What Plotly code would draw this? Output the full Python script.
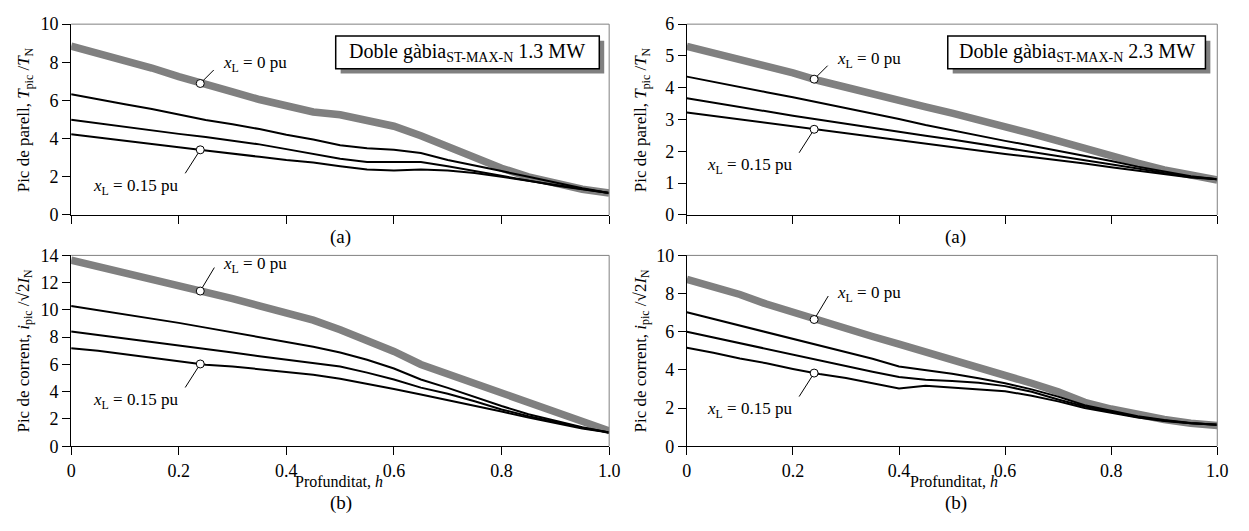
import numpy as np
import plotly.graph_objects as go
from plotly.subplots import make_subplots

# Depth h (per unit)
h = [0.0, 0.05, 0.1, 0.15, 0.2, 0.25, 0.3, 0.35, 0.4, 0.45, 0.5,
     0.55, 0.6, 0.65, 0.7, 0.75, 0.8, 0.85, 0.9, 0.95, 1.0]

# --- 1.3 MW machine: peak torque T_pic/T_N ---
torque_13_x0 = [8.85, 8.5, 8.15, 7.7, 7.25, 6.8, 6.45, 6.05, 5.7, 5.4, 5.25,
                5.0, 4.65, 4.15, 3.55, 3.0, 2.45, 2.0, 1.65, 1.35, 1.15]
torque_13_a = [6.33, 6.05, 5.8, 5.55, 5.25, 4.98, 4.75, 4.5, 4.2, 3.95, 3.65,
               3.5, 3.42, 3.25, 2.88, 2.6, 2.3, 2.0, 1.7, 1.4, 1.15]
torque_13_b = [4.99, 4.8, 4.6, 4.42, 4.25, 4.08, 3.9, 3.7, 3.45, 3.2, 2.95,
               2.78, 2.78, 2.78, 2.55, 2.3, 2.05, 1.8, 1.55, 1.35, 1.15]
torque_13_x15 = [4.23, 4.05, 3.9, 3.72, 3.55, 3.38, 3.2, 3.05, 2.88, 2.75, 2.55,
                 2.38, 2.33, 2.38, 2.33, 2.2, 2.0, 1.78, 1.55, 1.35, 1.15]

# --- 2.3 MW machine: peak torque T_pic/T_N ---
torque_23_x0 = [5.3, 5.1, 4.88, 4.67, 4.47, 4.22, 4.0, 3.8, 3.6, 3.4, 3.2,
                3.0, 2.78, 2.56, 2.33, 2.08, 1.85, 1.63, 1.42, 1.25, 1.1]
torque_23_a = [4.35, 4.18, 4.02, 3.86, 3.7, 3.53, 3.37, 3.2, 3.02, 2.83, 2.66,
               2.48, 2.33, 2.18, 2.02, 1.88, 1.7, 1.52, 1.36, 1.22, 1.12]
torque_23_b = [3.67, 3.54, 3.4, 3.26, 3.12, 2.99, 2.86, 2.74, 2.62, 2.49, 2.37,
               2.24, 2.12, 1.99, 1.87, 1.74, 1.6, 1.46, 1.32, 1.2, 1.12]
torque_23_x15 = [3.22, 3.11, 3.0, 2.9, 2.79, 2.67, 2.56, 2.45, 2.34, 2.23, 2.12,
                 2.02, 1.92, 1.82, 1.73, 1.62, 1.5, 1.39, 1.28, 1.18, 1.12]

# --- 1.3 MW machine: peak current i_pic/sqrt(2) I_N ---
current_13_x0 = [13.65, 13.2, 12.75, 12.3, 11.8, 11.28, 10.83, 10.3, 9.8, 9.25, 8.55,
                 7.8, 6.95, 6.0, 5.3, 4.6, 3.9, 3.2, 2.5, 1.8, 1.13]
current_13_a = [10.28, 9.98, 9.68, 9.38, 9.05, 8.7, 8.35, 8.0, 7.65, 7.3, 6.88,
                6.35, 5.7, 4.9, 4.28, 3.6, 2.95, 2.35, 1.85, 1.4, 1.0]
current_13_b = [8.42, 8.17, 7.92, 7.67, 7.4, 7.13, 6.87, 6.6, 6.35, 6.15, 5.85,
                5.4, 4.9, 4.3, 3.85, 3.3, 2.7, 2.2, 1.75, 1.35, 1.0]
current_13_x15 = [7.18, 7.0, 6.75, 6.5, 6.25, 5.98, 5.85, 5.65, 5.45, 5.25, 4.95,
                  4.6, 4.2, 3.8, 3.4, 3.0, 2.55, 2.1, 1.7, 1.3, 1.0]

# --- 2.3 MW machine: peak current i_pic/sqrt(2) I_N ---
current_23_x0 = [8.74, 8.35, 7.95, 7.45, 7.0, 6.55, 6.1, 5.75, 5.35, 4.95, 4.6,
                 4.2, 3.8, 3.3, 2.85, 2.3, 1.95, 1.65, 1.4, 1.2, 1.09]
current_23_a = [7.02, 6.67, 6.32, 5.97, 5.62, 5.28, 4.94, 4.58, 4.18, 3.98, 3.8,
                3.56, 3.3, 2.98, 2.6, 2.15, 1.85, 1.57, 1.37, 1.22, 1.12]
current_23_b = [6.0, 5.7, 5.4, 5.1, 4.8, 4.5, 4.18, 3.9, 3.63, 3.48, 3.42,
                3.33, 3.15, 2.85, 2.45, 2.08, 1.8, 1.53, 1.35, 1.2, 1.12]
current_23_x15 = [5.16, 4.9, 4.6, 4.35, 4.05, 3.78, 3.58, 3.3, 3.03, 3.17, 3.08,
                  3.0, 2.88, 2.65, 2.35, 2.0, 1.75, 1.5, 1.32, 1.2, 1.12]

# Depth at which the x_L curves are labelled
h_label = 0.24

x_tickvals = [0, 0.2, 0.4, 0.6, 0.8, 1.0]
x_ticktext = ["0", "0.2", "0.4", "0.6", "0.8", "1.0"]

FONT = "'Liberation Serif', 'Times New Roman', serif"
GRAY = "#808080"

panels = [
    # row, col, curves (x0, mid1, mid2, x15), y max, y dtick, show x labels
    (1, 1, [torque_13_x0, torque_13_a, torque_13_b, torque_13_x15], 10, 2, False),
    (1, 2, [torque_23_x0, torque_23_a, torque_23_b, torque_23_x15], 6, 1, False),
    (2, 1, [current_13_x0, current_13_a, current_13_b, current_13_x15], 14, 2, True),
    (2, 2, [current_23_x0, current_23_a, current_23_b, current_23_x15], 10, 2, True),
]

fig = make_subplots(rows=2, cols=2)

W, H = 1249, 531
x_dom = {1: [67 / W, 612 / W], 2: [690.7 / W, 1228 / W]}
y_dom = {1: [1 - 213 / H, 1 - 14.7 / H], 2: [1 - 453.3 / H, 1 - 255 / H]}

annotations = []
shapes = []

for idx, (r, c, curves, ymax, dtick, xlabels) in enumerate(panels):
    ax_id = "" if idx == 0 else str(idx + 1)
    xref, yref = "x" + ax_id, "y" + ax_id
    x0c, m1, m2, x15c = curves
    # thick gray curve for x_L = 0
    fig.add_trace(go.Scatter(x=h, y=x0c, mode="lines",
                             line=dict(color=GRAY, width=7.5), showlegend=False,
                             hoverinfo="skip"), row=r, col=c)
    for yy in (m1, m2, x15c):
        fig.add_trace(go.Scatter(x=h, y=yy, mode="lines",
                                 line=dict(color="black", width=2),
                                 showlegend=False, hoverinfo="skip"),
                      row=r, col=c)
    # label markers on the x_L = 0 and x_L = 0.15 curves
    y_top = float(np.interp(h_label, h, x0c))
    y_bot = float(np.interp(h_label, h, x15c))
    fig.add_trace(go.Scatter(x=[h_label, h_label], y=[y_top, y_bot], mode="markers",
                             marker=dict(size=8, color="white",
                                         line=dict(color="black", width=1)),
                             showlegend=False, hoverinfo="skip", cliponaxis=False),
                  row=r, col=c)

    # leader lines and labels
    lab_font = dict(family=FONT, size=17, color="black")
    top_ay = -15 if r == 1 else -25
    annotations.append(dict(x=h_label, y=y_top, xref=xref, yref=yref, text="",
                            showarrow=True, arrowhead=0, arrowwidth=1,
                            arrowcolor="black", ax=15, ay=top_ay, standoff=4))
    annotations.append(dict(x=h_label, y=y_bot, xref=xref, yref=yref, text="",
                            showarrow=True, arrowhead=0, arrowwidth=1,
                            arrowcolor="black", ax=-16, ay=25, standoff=4))
    annotations.append(dict(x=h_label, y=y_top, xref=xref, yref=yref,
                            text="<i>x</i><sub>L</sub> = 0 pu", showarrow=False,
                            xanchor="left", yanchor="middle",
                            xshift=21, yshift=(19 if r == 1 else 26), font=lab_font))
    annotations.append(dict(x=h_label, y=y_bot, xref=xref, yref=yref,
                            text="<i>x</i><sub>L</sub> = 0.15 pu", showarrow=False,
                            xanchor="right", yanchor="middle",
                            xshift=-20, yshift=-37, font=lab_font))

    # top and right frame in gray
    shapes.append(dict(type="line", xref=xref + " domain", yref=yref + " domain",
                       x0=0, x1=1, y0=1, y1=1, line=dict(color=GRAY, width=1)))
    shapes.append(dict(type="line", xref=xref + " domain", yref=yref + " domain",
                       x0=1, x1=1, y0=0, y1=1, line=dict(color=GRAY, width=1)))

    fig.update_xaxes(domain=x_dom[c], range=[0, 1], tickvals=x_tickvals,
                     ticktext=x_ticktext, showticklabels=xlabels,
                     ticks="outside", ticklen=8, tickwidth=1.2, tickcolor="black",
                     showline=True, linecolor="black", linewidth=1.2,
                     showgrid=False, zeroline=False,
                     tickfont=dict(family=FONT, size=18, color="black"),
                     row=r, col=c)
    fig.update_yaxes(domain=y_dom[r], range=[0, ymax], dtick=dtick, tick0=0,
                     ticks="outside", ticklen=8, tickwidth=1.2, tickcolor="black",
                     showline=True, linecolor="black", linewidth=1.2,
                     showgrid=False, zeroline=False,
                     tickfont=dict(family=FONT, size=18, color="black"),
                     row=r, col=c)

# y-axis titles
y_titles = {1: "Pic de parell, <i>T</i><sub>pic</sub> /<i>T</i><sub>N</sub>",
            2: "Pic de corrent, <i>i</i><sub>pic</sub> /√2<i>I</i><sub>N</sub>"}
title_x = {1: 20 / W, 2: 645 / W}
for r in (1, 2):
    for c in (1, 2):
        annotations.append(dict(x=title_x[c], y=sum(y_dom[r]) / 2, xref="paper",
                                yref="paper", text=y_titles[r], textangle=-90,
                                showarrow=False, xanchor="center", yanchor="middle",
                                font=dict(family=FONT, size=17, color="black")))

# panel captions and x-axis titles
cap_x = {1: 340 / W, 2: 963 / W}
for c in (1, 2):
    annotations.append(dict(x=cap_x[c], y=1 - 236 / H, xref="paper", yref="paper",
                            text="(a)", showarrow=False, xanchor="center",
                            yanchor="middle",
                            font=dict(family=FONT, size=19, color="black")))
    annotations.append(dict(x=cap_x[c], y=1 - 512 / H, xref="paper", yref="paper",
                            text="(b)", showarrow=False, xanchor="center",
                            yanchor="middle",
                            font=dict(family=FONT, size=19, color="black")))
    annotations.append(dict(x=cap_x[c] - 2 / W, y=1 - 490 / H, xref="paper",
                            yref="paper", text="Profunditat, <i>h</i>",
                            showarrow=False, xanchor="center", yanchor="middle",
                            font=dict(family=FONT, size=16, color="black")))

# machine name boxes with drop shadow (pixel extents of each box)
box_text = {1: "Doble gàbia<sub>ST-MAX-N</sub> 1.3 MW",
            2: "Doble gàbia<sub>ST-MAX-N</sub> 2.3 MW"}
box_px = {1: (335, 602), 2: (955, 1216)}
box_top, box_bot = 27, 61
for c in (1, 2):
    xl, xr = box_px[c]
    shapes.append(dict(type="rect", xref="paper", yref="paper",
                       x0=(xl + 5) / W, x1=(xr + 5) / W,
                       y0=1 - (box_bot + 5) / H, y1=1 - (box_top + 5) / H,
                       fillcolor=GRAY, line=dict(width=0), layer="above"))
    shapes.append(dict(type="rect", xref="paper", yref="paper",
                       x0=xl / W, x1=xr / W, y0=1 - box_bot / H, y1=1 - box_top / H,
                       fillcolor="white", line=dict(color="black", width=1.5),
                       layer="above"))
    annotations.append(dict(x=(xl + xr) / 2 / W, y=1 - (box_top + box_bot) / 2 / H,
                            xref="paper", yref="paper", text=box_text[c],
                            showarrow=False, xanchor="center", yanchor="middle",
                            font=dict(family=FONT, size=20, color="black")))

fig.update_layout(width=W, height=H, margin=dict(l=0, r=0, t=0, b=0),
                  plot_bgcolor="white", paper_bgcolor="white",
                  annotations=annotations, shapes=shapes,
                  font=dict(family=FONT, color="black"))

# let the figure fill the page exactly
fig.write_html("out.html",
               post_script="document.body.style.margin='0';"
                           "document.body.style.overflow='hidden';")
